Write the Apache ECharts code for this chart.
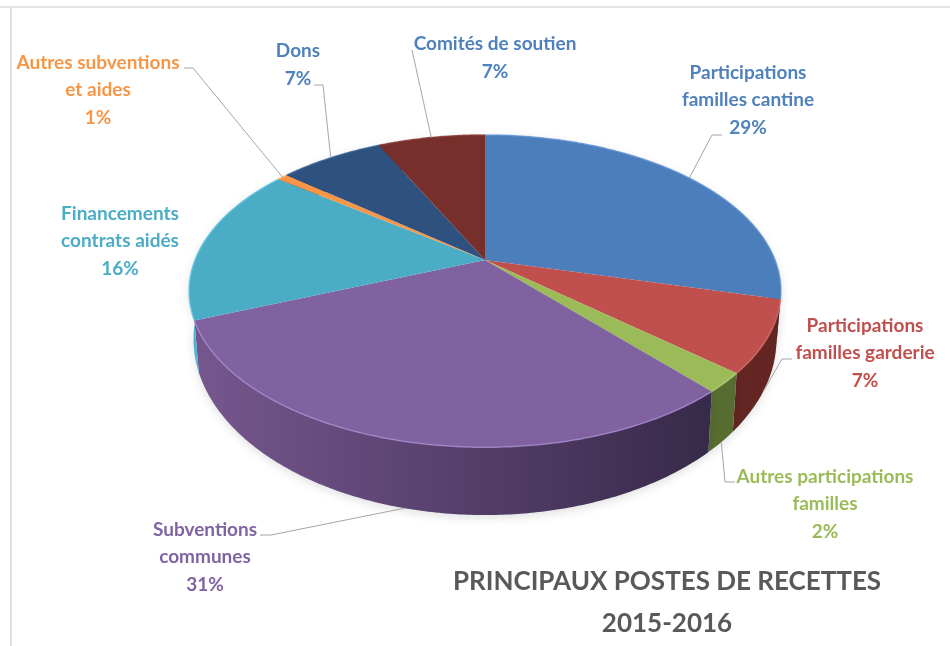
<!DOCTYPE html>
<html>
<head>
<meta charset="utf-8">
<title>Principaux postes de recettes 2015-2016</title>
<script src="https://cdn.jsdelivr.net/npm/echarts@6/dist/echarts.min.js"></script>
<style>
  html, body { margin: 0; padding: 0; background: #fff; }
  #chart { width: 950px; height: 646px; }
</style>
</head>
<body>
<div id="chart"></div>
<script>
// postes de recettes, dans l'ordre du camembert (sens horaire depuis midi)
const names = [
  'Participations\nfamilles cantine',
  'Participations\nfamilles garderie',
  'Autres participations\nfamilles',
  'Subventions\ncommunes',
  'Financements\ncontrats aidés',
  'Autres subventions\net aides',
  'Dons',
  'Comités de soutien'
];
const values = [29.0, 7.4, 2.0, 30.5, 16.4, 0.7, 6.9, 7.1];

const titleText = 'PRINCIPAUX POSTES DE RECETTES\n2015-2016';

// couleurs
const topColors = ['#4c7ebc', '#c0504d', '#9bbb59', '#8062a0', '#4bacc6', '#f79646', '#2e5180', '#772f2c'];
const labelColors = ['#4f81bd', '#c0504d', '#9bbb59', '#8064a2', '#4bacc6', '#f79646', '#4f81bd', '#4f81bd'];
const sideLeft = ['#3a5f8d', '#7a2e2a', '#62793a', '#77578f', '#4fb4d2', '#b56c2e', '#1f3a5f', '#5a2220'];
const sideRight = ['#2d4a70', '#622521', '#566b2f', '#2e2440', '#3f97b2', '#a5622a', '#1f3a5f', '#5a2220'];
const rimColors = ['#6a9bd8', '#d86e6a', '#b4d276', '#a78bd2', '#62c8e6', '#ffb070', '#3d6aa0', '#90403c'];

// position des etiquettes : [centre x, centre y, coude x, coude y, depart x, depart y, bord bas ?]
const labelPos = [
  [748, 100, 712, 135, 722, 135, false],
  [865, 353, 782, 359, 792, 359, true],
  [825, 504, 725, 482, 735, 482, true],
  [205, 557, 271, 535, 260, 535, true],
  [120, 241, null, null, null, null, false],
  [98, 90, 193, 68, 184, 68, false],
  [298, 65, 323, 85, 314, 85, false],
  [495, 58, null, null, 412, 50, false]
];

// projection du disque en perspective
const cx = 485, cy = 260;
const rx = 290, ry = 150, persp = 0.199;
const bottomScaleX = 0.985, bottomScaleY = 1.127, bottomY = 304;

const total = values.reduce((a, b) => a + b, 0);
const angles = [0];
values.forEach((v, i) => angles.push(angles[i] + v / total * Math.PI * 2));

const topPoint = (t) => {
  const u = Math.sin(t), v = -Math.cos(t), d = 1 - persp * v;
  return [cx + rx * u / d, cy + ry * v / d];
};
const bottomPoint = (t) => {
  const p = topPoint(t);
  return [cx + (p[0] - cx) * bottomScaleX, bottomY + (p[1] - cy) * bottomScaleY];
};
const arc = (fn, a, b) => {
  const n = Math.max(2, Math.ceil((b - a) / 0.01));
  const pts = [];
  for (let i = 0; i <= n; i++) pts.push(fn(a + (b - a) * i / n));
  return pts;
};

const chart = echarts.init(document.getElementById('chart'), null, {renderer: 'canvas'});

const renderSide = (params) => {
  const i = params.dataIndex;
  const upper = arc(topPoint, angles[i], angles[i + 1]);
  const lower = arc(bottomPoint, angles[i], angles[i + 1]).reverse();
  return {
    type: 'polygon',
    shape: {points: upper.concat(lower)},
    style: {
      fill: new echarts.graphic.LinearGradient(190, 0, 780, 0, [
        {offset: 0, color: sideLeft[i]},
        {offset: 1, color: sideRight[i]}
      ], true),
      shadowBlur: 10,
      shadowColor: 'rgba(0,0,0,0.12)',
      shadowOffsetY: 3
    }
  };
};

const renderTop = (params) => {
  const i = params.dataIndex;
  const rim = arc(topPoint, angles[i], angles[i + 1]);
  return {
    type: 'group',
    children: [
      {
        type: 'polygon',
        shape: {points: [[cx, cy]].concat(rim)},
        style: {fill: topColors[i]}
      },
      {
        type: 'polyline',
        shape: {points: rim},
        style: {fill: 'none', stroke: rimColors[i], lineWidth: 1.5, opacity: 0.75}
      }
    ]
  };
};

const renderLabel = (params) => {
  const i = params.dataIndex;
  const pos = labelPos[i];
  const mid = (angles[i] + angles[i + 1]) / 2;
  const children = [{
    type: 'text',
    style: {
      text: names[i] + '\n' + Math.round(values[i]) + '%',
      x: pos[0],
      y: pos[1],
      align: 'center',
      verticalAlign: 'middle',
      fontFamily: 'Lato',
      fontWeight: 'bold',
      fontSize: 19,
      lineHeight: 27.5,
      fill: labelColors[i]
    }
  }];
  if (pos[4] !== null) {
    const end = pos[6] ? bottomPoint(mid) : topPoint(mid);
    const pts = [[pos[4], pos[5]]];
    if (pos[2] !== null) pts.push([pos[2], pos[3]]);
    pts.push(end);
    children.push({
      type: 'polyline',
      shape: {points: pts},
      style: {fill: 'none', stroke: '#a6a6a6', lineWidth: 1}
    });
  }
  return {type: 'group', children};
};

const option = {
  backgroundColor: '#fff',
  animation: false,
  title: {
    text: titleText,
    left: 662,
    top: 556,
    textAlign: 'center',
    textStyle: {
      fontFamily: 'Lato',
      fontWeight: 'bold',
      fontSize: 26,
      lineHeight: 42,
      color: '#595959'
    }
  },
  graphic: [
    {type: 'rect', shape: {x: 0, y: 6, width: 950, height: 2}, style: {fill: '#e4e4e4'}},
    {type: 'rect', shape: {x: 10, y: 7, width: 2, height: 639}, style: {fill: '#e0e0e0'}}
  ],
  series: [
    {type: 'custom', coordinateSystem: 'none', z: 1, silent: true, data: values, renderItem: renderSide},
    {type: 'custom', coordinateSystem: 'none', z: 2, silent: true, data: values, renderItem: renderTop},
    {type: 'custom', coordinateSystem: 'none', z: 3, silent: true, data: values, renderItem: renderLabel}
  ]
};

chart.setOption(option);
window.addEventListener('resize', () => chart.resize());
</script>
</body>
</html>
